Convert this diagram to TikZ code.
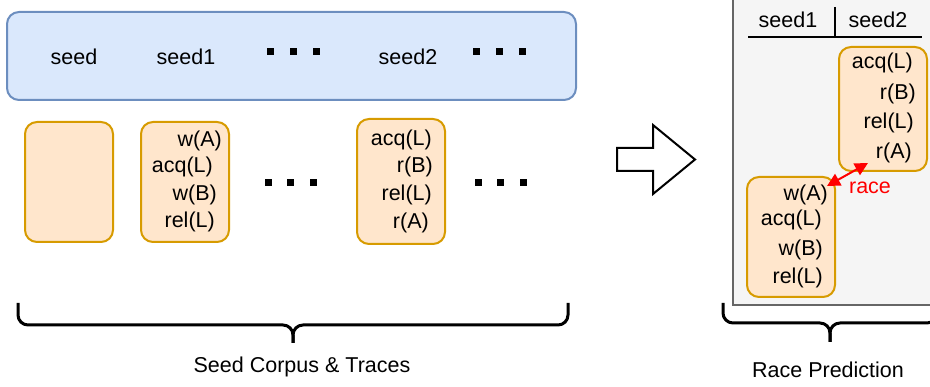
\documentclass[tikz,border=0pt]{standalone}
\usepackage{fontspec}
\setmainfont{Liberation Sans}
\usetikzlibrary{arrows.meta}
\definecolor{seedfill}{HTML}{DAE8FC}
\definecolor{seedline}{HTML}{6C8EBF}
\definecolor{tracefill}{HTML}{FFE6CC}
\definecolor{traceline}{HTML}{D79B00}
\definecolor{panelfill}{HTML}{F5F5F5}
\definecolor{panelline}{HTML}{666666}
\definecolor{racered}{HTML}{FF0000}
\tikzset{
  seedbar/.style={draw=seedline, fill=seedfill, line width=2pt, rounded corners=12pt},
  tracebox/.style={draw=traceline, fill=tracefill, line width=2pt, rounded corners=12pt},
  panel/.style={draw=panelline, fill=panelfill, line width=2pt},
  lbl/.style={inner sep=0pt, font=\fontsize{21.5}{25}\selectfont},
  ev/.style={lbl, anchor=east},
  dotsq/.style={fill=black, inner sep=0pt, minimum size=7pt, rectangle},
  brace/.style={line width=3pt, rounded corners=10pt},
  blockarrow/.style={draw=black, fill=white, line width=2pt, line join=miter},
  racearrow/.style={draw=racered, line width=2pt, >={Triangle[length=13pt,width=13pt]}, <->},
}
\begin{document}
\begin{tikzpicture}[x=1pt, y=-1pt]
\clip (0,0) rectangle (930,387);

% ---- seed corpus bar ----
\draw[seedbar] (7,12) rectangle (576,100);
\node[lbl] (s0) at (74,57) {seed};
\node[lbl] (s1) at (186,57) {seed1};
\node[lbl] (s2) at (408,57) {seed2};
\foreach \x [count=\i] in {270.5,293.5,316.5}
  \node[dotsq] (ta\i) at (\x,52) {};
\foreach \x [count=\i] in {476.5,499.5,522.5}
  \node[dotsq] (tb\i) at (\x,52) {};

% ---- traces ----
\draw[tracebox] (25,122) rectangle (113,242);
\draw[tracebox] (141,122) rectangle (229,242);
\draw[tracebox] (357,119) rectangle (445,244);

\node[ev] (a1) at (222,141) {w(A)};
\node[ev] (a2) at (213,167) {acq(L)};
\node[ev] (a3) at (217,195) {w(B)};
\node[ev] (a4) at (215,222) {rel(L)};

\node[ev] (b1) at (432,140) {acq(L)};
\node[ev] (b2) at (433,167) {r(B)};
\node[ev] (b3) at (432,195) {rel(L)};
\node[ev] (b4) at (429,223) {r(A)};

\foreach \x [count=\i] in {268.5,290.5,313.5}
  \node[dotsq] (ma\i) at (\x,183) {};
\foreach \x [count=\i] in {478.5,500.5,523.5}
  \node[dotsq] (mb\i) at (\x,183) {};

% ---- brace and caption, left ----
\draw[brace] (18,303) -- (18,325) -- (293,325) -- (293,343);
\draw[brace] (568,303) -- (568,325) -- (293,325) -- (293,343);
\node[lbl] (cap1) at (302,367) {Seed Corpus \& Traces};

% ---- block arrow ----
\draw[blockarrow] (617,148) -- (653,148) -- (653,125) -- (695,159.5)
  -- (653,194) -- (653,171) -- (617,171) -- cycle;

% ---- race prediction panel ----
\draw[panel] (733,-10) rectangle (945,305);
\node[lbl] (h1) at (788,20) {seed1};
\node[lbl] (h2) at (878,20) {seed2};
\draw[line width=2pt] (835,7) -- (835,37);
\draw[line width=2pt] (748,37) -- (922,37);

\draw[tracebox] (839,47) rectangle (927,171);
\node[ev] (c1) at (913,63) {acq(L)};
\node[ev] (c2) at (916,94) {r(B)};
\node[ev] (c3) at (914,123) {rel(L)};
\node[ev] (c4) at (912,153) {r(A)};

\draw[tracebox] (747,177) rectangle (835,297);
\node[ev] (d1) at (828,195) {w(A)};
\node[ev] (d2) at (822,220) {acq(L)};
\node[ev] (d3) at (823,250) {w(B)};
\node[ev] (d4) at (823,278) {rel(L)};

\coordinate (rw) at (827,186);
\coordinate (rr) at (868,163);
\draw[racearrow] (rw) -- (rr);
\node[lbl, text=racered] (race) at (870,188) {race};

% ---- brace and caption, right ----
\draw[brace] (723,303) -- (723,323) -- (830,323) -- (830,342);
\draw[brace] (937,303) -- (937,323) -- (830,323) -- (830,342);
\node[lbl] (cap2) at (828,370) {Race Prediction};
\end{tikzpicture}
\end{document}
